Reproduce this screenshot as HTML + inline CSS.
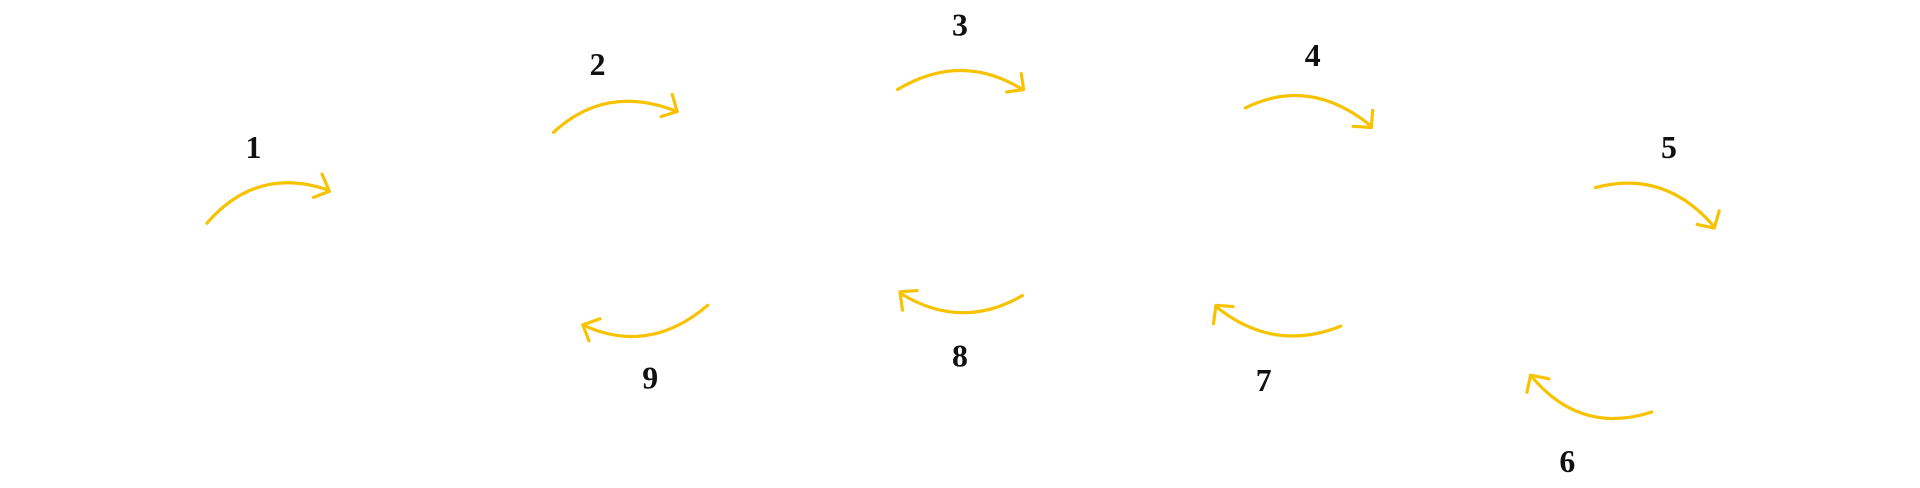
<!DOCTYPE html>
<html><head><meta charset="utf-8"><style>
html,body{margin:0;padding:0;background:#fff;width:1920px;height:488px;overflow:hidden}
svg{display:block}
text{font-family:"Liberation Serif",serif;font-weight:bold;font-size:26px;fill:#111;text-anchor:middle}
path{fill:none;stroke:#F7C300;stroke-width:2.6;stroke-linecap:round;stroke-linejoin:round}
</style></head><body>
<svg width="1920" height="488" viewBox="0 0 1568 398" preserveAspectRatio="none">
<text x="207" y="129">1</text>
<path d="M169,182 Q210,135 268,155"/><path d="M263,142 L269,156 L256,161"/>
<text x="488" y="61">2</text>
<path d="M452,108 Q495,68 553,91"/><path d="M549,77 L553,91 L540,95"/>
<text x="784" y="29">3</text>
<path d="M733,73 Q785,42 835,73"/><path d="M834,60 L836,73 L822,75"/>
<text x="1072" y="54">4</text>
<path d="M1017,88 Q1070,62 1120,103"/><path d="M1121,90 L1120,104 L1105,103"/>
<text x="1363" y="129">5</text>
<path d="M1303,153 Q1360,138 1400,185"/><path d="M1404,172 L1400,186 L1386,183"/>
<text x="1280" y="385">6</text>
<path d="M1349,336 Q1290,355 1250,306"/><path d="M1247,320 L1250,306 L1265,309"/>
<text x="1032" y="319">7</text>
<path d="M1095,266 Q1040,288 993,250"/><path d="M991,264 L993,249 L1007,250"/>
<text x="784" y="299">8</text>
<path d="M835,241 Q785,270 735,239"/><path d="M737,253 L735,238 L749,237"/>
<text x="531" y="317">9</text>
<path d="M578,249 Q530,290 476,265"/><path d="M481,278 L476,265 L490,260"/>
</svg>
</body></html>
